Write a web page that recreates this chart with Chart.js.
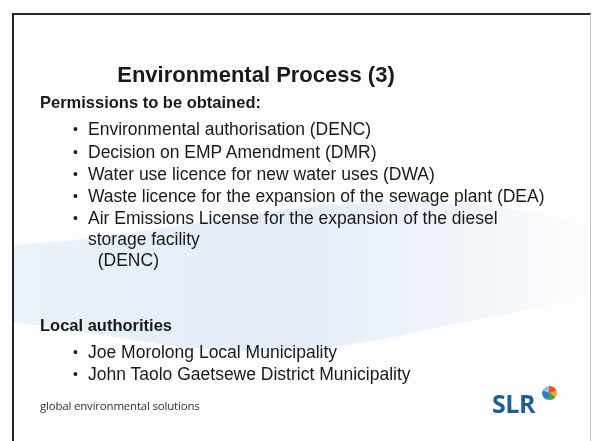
<!DOCTYPE html>
<html>
<head>
<meta charset="utf-8">
<script src="https://cdn.jsdelivr.net/npm/chart.js@4.4.1/dist/chart.umd.min.js"></script>
<style>
  html, body { margin: 0; padding: 0; }
  body { width: 592px; height: 441px; background: #fdfdfd; position: relative; overflow: hidden;
         font-family: 'Liberation Sans', Arial, sans-serif; color: #1a1a1a; }
  #frame { position: absolute; left: 12px; top: 13px; width: 576px; height: 440px;
           border-left: 2px solid #222; border-top: 2px solid #2a2a2a; border-right: 1px solid #c8c8c8; }
  #wm { position: absolute; left: 14px; top: 15px; width: 574px; height: 426px; }
  .t { position: absolute; white-space: nowrap; }
  #title { font-weight: bold; font-size: 22px; left: 0; width: 512px; text-align: center; }
  .head { font-weight: bold; font-size: 16.5px; left: 40px; }
  .item { font-size: 17.5px; left: 88px; line-height: 21px; }
  .dot { position: absolute; left: -15px; top: 0; font-size: 14px; }
  #footer { font-family: 'Open Sans', 'Noto Sans', sans-serif; font-size: 11.5px; left: 40px; color: #333; letter-spacing: -0.2px; }
  #slr { font-family: 'Open Sans', 'Noto Sans', sans-serif; font-weight: bold; font-size: 25px; color: #1f5e8e; left: 492px; letter-spacing: -0.5px; }
  #globe { position: absolute; left: 542px; top: 386px; width: 15px; height: 14px; border-radius: 50%;
           background: conic-gradient(#e8502a 0 20%, #f2a630 20% 35%, #3fa34d 35% 55%, #2a7fc8 55% 80%, #8fc3e8 80% 100%); }
</style>
</head>
<body>
<div id="frame"></div>
<canvas id="wm" width="574" height="426"></canvas>
<div id="slide"></div>
<script>
const slideTitle = 'Environmental Process (3)';
const permissionsHeading = 'Permissions to be obtained:';
const permissionItems = [
  ['Environmental authorisation (DENC)'],
  ['Decision on EMP Amendment (DMR)'],
  ['Water use licence for new water uses (DWA)'],
  ['Waste licence for the expansion of the sewage plant (DEA)'],
  ['Air Emissions License for the expansion of the diesel', 'storage facility', '\u00a0 (DENC)']
];
const localHeading = 'Local authorities';
const localItems = [
  ['Joe Morolong Local Municipality'],
  ['John Taolo Gaetsewe District Municipality']
];
const footerText = 'global environmental solutions';
const logoText = 'SLR';

// faint background swoosh, in % of the slide area
const swooshX = [0, 15, 30, 45, 60, 75, 90, 100];
const swooshUpper = [54, 52, 49, 46, 44, 44, 46, 49];
const swooshLower = [72, 75, 78, 79, 77, 73, 69, 66];

const slide = document.getElementById('slide');
function addText(cls, text, top, id) {
  const d = document.createElement('div');
  d.className = 't ' + cls;
  if (id) d.id = id;
  d.style.top = top + 'px';
  d.textContent = text;
  slide.appendChild(d);
  return d;
}

addText('', slideTitle, 62, 'title');
addText('head', permissionsHeading, 93);

const itemTops = [119, 142, 164, 186, 208];
permissionItems.forEach((lines, i) => {
  const d = addText('item', '', itemTops[i]);
  d.innerHTML = '<span class="dot">\u2022</span>' + lines.join('<br>');
});

addText('head', localHeading, 316);
const localTops = [342, 364];
localItems.forEach((lines, i) => {
  const d = addText('item', '', localTops[i]);
  d.innerHTML = '<span class="dot">\u2022</span>' + lines.join('<br>');
});

addText('', footerText, 398, 'footer');
addText('', logoText, 386, 'slr');
const g = document.createElement('div');
g.id = 'globe';
slide.appendChild(g);

const ctx = document.getElementById('wm').getContext('2d');
const grad = ctx.createLinearGradient(0, 0, 574, 0);
grad.addColorStop(0, 'rgba(185, 210, 238, 0.28)');
grad.addColorStop(0.5, 'rgba(170, 200, 235, 0.3)');
grad.addColorStop(0.85, 'rgba(200, 218, 240, 0.18)');
grad.addColorStop(1, 'rgba(225, 233, 245, 0.05)');

new Chart(ctx, {
  type: 'line',
  data: {
    datasets: [
      {
        data: swooshX.map((x, i) => ({ x: x, y: swooshLower[i] })),
        borderWidth: 0,
        pointRadius: 0,
        fill: false,
        tension: 0.4,
      },
      {
        data: swooshX.map((x, i) => ({ x: x, y: swooshUpper[i] })),
        borderColor: 'rgba(255, 255, 255, 0.5)',
        borderWidth: 2,
        pointRadius: 0,
        fill: '-1',
        backgroundColor: grad,
        tension: 0.4,
      },
    ],
  },
  options: {
    responsive: false,
    animation: false,
    layout: { padding: 0 },
    scales: {
      x: { type: 'linear', min: 0, max: 100, display: false },
      y: { min: 0, max: 100, reverse: true, display: false },
    },
    plugins: {
      legend: { display: false },
      tooltip: { enabled: false },
    },
  },
});
</script>
</body>
</html>
